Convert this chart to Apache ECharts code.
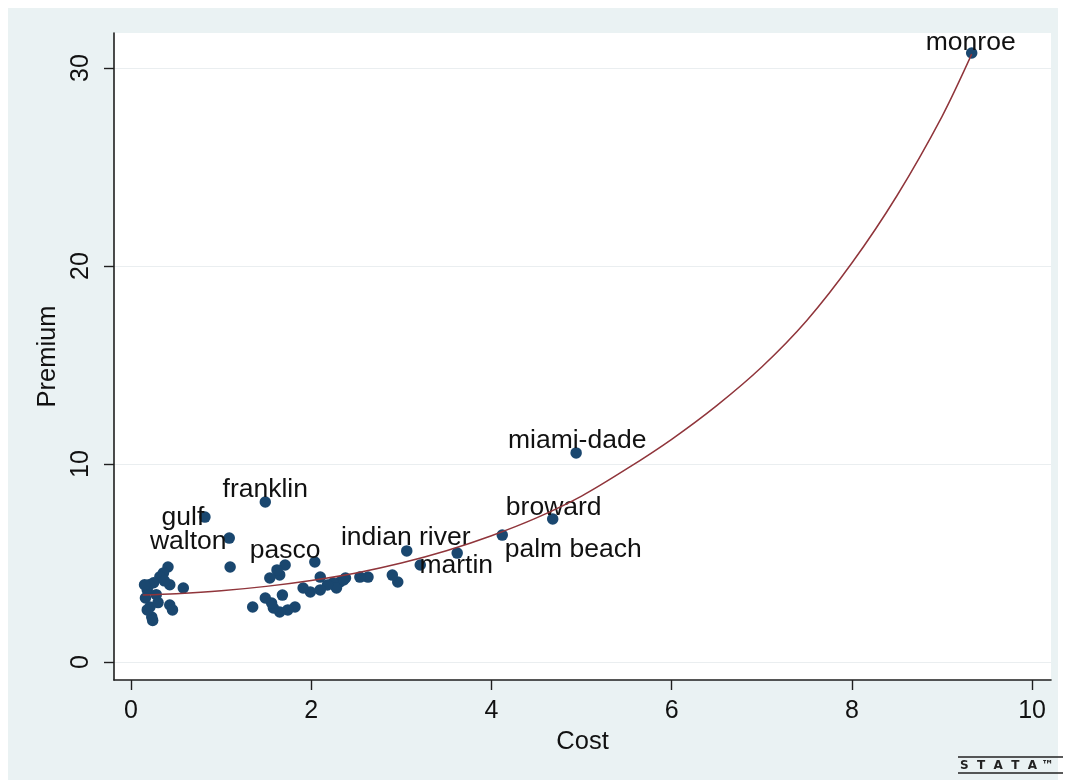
<!DOCTYPE html>
<html><head><meta charset="utf-8">
<script src="https://cdn.jsdelivr.net/npm/echarts@6/dist/echarts.min.js"></script>
<style>html,body{margin:0;padding:0;background:#fff}#c{width:1067px;height:780px}</style>
</head><body><div id="c"></div>
<script>
// ---- data ----
const counties = [
  'monroe','miami-dade','broward','palm beach','indian river','martin','pasco','franklin','gulf','walton',
  '','','','','','','','','','','','','','','','','','','','','','','','','','','','','','','','','','','','','','','','','','','','','','','','','',''
];
const cost = [
  9.33, 4.94, 4.68, 4.12, 3.06, 3.62, 1.71, 1.49, 0.82, 1.09,
  3.21, 2.96, 2.90, 2.63, 2.54, 2.38, 2.32, 2.24, 2.28, 2.18,
  2.10, 2.10, 1.99, 1.91, 2.04, 1.82, 1.74, 1.65, 1.58, 1.56,
  1.68, 1.49, 1.35, 1.65, 1.54, 1.62, 1.10, 0.58, 0.41, 0.36,
  0.32, 0.25, 0.18, 0.16, 0.21, 0.23, 0.43, 0.43, 0.46, 0.18,
  0.24, 0.28, 0.20, 0.30, 0.15, 2.36, 0.37
];
const premium = [
  30.76, 10.56, 7.22, 6.41, 5.61, 5.50, 4.90, 8.08, 7.32, 6.26,
  4.90, 4.04, 4.39, 4.29, 4.29, 4.24, 4.04, 3.99, 3.74, 3.89,
  4.29, 3.64, 3.54, 3.74, 5.05, 2.78, 2.63, 2.53, 2.73, 2.98,
  3.38, 3.23, 2.78, 4.40, 4.24, 4.65, 4.80, 3.74, 4.80, 4.50,
  4.30, 4.00, 3.64, 3.23, 2.78, 2.27, 3.90, 2.88, 2.63, 2.63,
  2.10, 3.40, 3.90, 3.00, 3.90, 4.15, 4.10
];
// fitted curve
const fitCost =    [0.13, 0.5,  1.0,  1.5,  2.0,  2.5,  3.0,  3.5,  4.0,  4.5,  5.0,  5.5,  6.0,   6.5,   7.0,   7.5,   8.0,   8.5,   9.0,   9.33];
const fitPremium = [3.38, 3.45, 3.60, 3.82, 4.12, 4.50, 5.00, 5.62, 6.38, 7.28, 8.38, 9.75, 11.25, 12.95, 14.90, 17.25, 20.15, 23.55, 27.55, 30.70];
const xTicks = [0, 2, 4, 6, 8, 10];
const yTicks = [0, 10, 20, 30];

// ---- label placement (offset of label centre from point centre, px) ----
const labelOffset = {
  'monroe': [-1, -10], 'miami-dade': [1, -12], 'broward': [1, -11], 'palm beach': [71, 15],
  'indian river': [-1, -13], 'martin': [-1, 13], 'pasco': [0, -14], 'franklin': [0, -12],
  'gulf': [-22, 1], 'walton': [-41, 4]
};
const SYM = 11.5;
const FONT = 'Liberation Sans, Arial, sans-serif';

const points = cost.map((c, i) => {
  const item = { value: [c, premium[i]], name: counties[i] };
  if (counties[i]) {
    const o = labelOffset[counties[i]];
    item.label = { show: true, formatter: '{b}', position: [SYM / 2 + o[0], SYM / 2 + o[1]],
      align: 'center', verticalAlign: 'middle', color: '#111', fontSize: 26.5, fontFamily: FONT };
  }
  return item;
});
const fit = fitCost.map((c, i) => [c, fitPremium[i]]);

const chart = echarts.init(document.getElementById('c'), null, { renderer: 'canvas' });
chart.setOption({
  animation: false,
  backgroundColor: '#ffffff',
  textStyle: { fontFamily: FONT },
  graphic: [
    { type: 'rect', z: -10, silent: true, shape: { x: 8, y: 8, width: 1050, height: 772 }, style: { fill: '#eaf2f3' } },
    { type: 'text', z: 10, x: 960, y: 766, silent: true,
      style: { text: 'S  T  A  T  A ™', font: 'bold 12px DejaVu Sans, sans-serif', fill: '#222', verticalAlign: 'middle', align: 'left' } },
    { type: 'line', z: 10, silent: true, shape: { x1: 958, y1: 757, x2: 1063, y2: 757 }, style: { stroke: '#222', lineWidth: 1.5 } },
    { type: 'line', z: 10, silent: true, shape: { x1: 958, y1: 773, x2: 1063, y2: 773 }, style: { stroke: '#222', lineWidth: 1.5 } }
  ],
  grid: { left: 114, right: 16, top: 33, bottom: 100, show: true, backgroundColor: '#ffffff', borderWidth: 0 },
  xAxis: {
    type: 'value', min: -0.189, max: 10.21,
    name: 'Cost', nameLocation: 'middle', nameGap: 46,
    nameTextStyle: { fontSize: 25.5, color: '#111', fontFamily: FONT },
    axisLine: { show: true, onZero: false, lineStyle: { color: '#1f1f1f', width: 1.6 } },
    axisTick: { show: true, length: 10, customValues: xTicks, lineStyle: { color: '#1f1f1f', width: 1.4 } },
    axisLabel: { customValues: xTicks, margin: 19, fontSize: 25, color: '#111', fontFamily: FONT },
    splitLine: { show: false }
  },
  yAxis: {
    type: 'value', min: -0.909, max: 31.77,
    name: 'Premium', nameLocation: 'middle', nameGap: 50,
    nameTextStyle: { fontSize: 25.5, color: '#111', fontFamily: FONT },
    axisLine: { show: true, onZero: false, lineStyle: { color: '#1f1f1f', width: 1.6 } },
    axisTick: { show: true, length: 10, customValues: yTicks, lineStyle: { color: '#1f1f1f', width: 1.4 } },
    axisLabel: { customValues: yTicks, margin: 20, rotate: 90, fontSize: 25, color: '#111', fontFamily: FONT },
    splitLine: { show: true, lineStyle: { color: '#eaeef0', width: 1.2 } }
  },
  series: [
    { type: 'scatter', data: points, symbol: 'circle', symbolSize: SYM, z: 3,
      itemStyle: { color: '#1a476f', opacity: 1 } },
    { type: 'line', data: fit, smooth: 0.3, showSymbol: false, z: 4,
      lineStyle: { color: '#90353b', width: 1.5 } }
  ]
});
</script></body></html>
